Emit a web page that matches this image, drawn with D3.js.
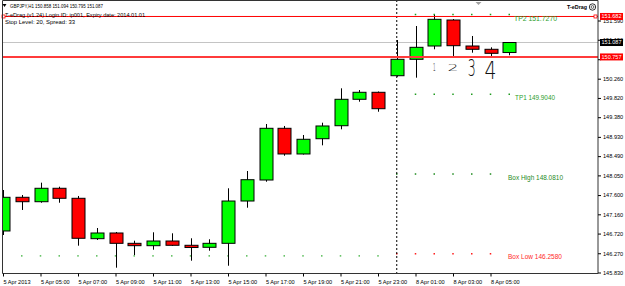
<!DOCTYPE html>
<html><head><meta charset="utf-8">
<script src="https://cdn.jsdelivr.net/npm/d3@7"></script>
<style>body{margin:0;background:#fff} svg{display:block;font-family:"Liberation Sans",Arial,sans-serif}</style>
</head><body><svg id="c" width="625" height="286"></svg>
<script>
// ---- data ----
const times = ["5 Apr 03:00","5 Apr 04:00","5 Apr 05:00","5 Apr 06:00","5 Apr 07:00","5 Apr 08:00","5 Apr 09:00",
  "5 Apr 10:00","5 Apr 11:00","5 Apr 12:00","5 Apr 13:00","5 Apr 14:00","5 Apr 15:00","5 Apr 16:00","5 Apr 17:00",
  "5 Apr 18:00","5 Apr 19:00","5 Apr 20:00","5 Apr 21:00","5 Apr 22:00","5 Apr 23:00",
  "8 Apr 00:00","8 Apr 01:00","8 Apr 02:00","8 Apr 03:00","8 Apr 04:00","8 Apr 05:00","8 Apr 06:00"];
const open  = [146.779,147.549,147.448,147.755,147.526,146.603,146.733,146.497,146.443,146.550,146.452,146.406,146.497,147.464,147.944,149.126,148.539,148.888,149.185,149.789,149.949,150.328,150.703,151.007,151.601,151.007,150.932,150.858];
const high  = [147.716,147.601,147.883,147.791,147.579,146.847,146.756,146.557,146.749,146.726,146.612,146.589,147.755,148.150,149.224,149.179,148.973,149.254,150.040,150.001,149.967,151.144,151.464,151.716,151.624,151.236,150.977,151.094];
const low   = [146.687,147.259,147.425,147.425,146.443,146.573,145.940,146.230,146.351,146.436,146.100,146.328,145.985,147.311,147.905,148.500,148.527,148.737,149.103,149.734,149.505,150.305,150.283,150.932,150.779,150.854,150.763,150.795];
const close = [147.549,147.448,147.755,147.526,146.612,146.733,146.497,146.443,146.550,146.452,146.401,146.497,147.464,147.951,149.126,148.539,148.875,149.179,149.789,149.949,149.574,150.703,150.977,151.617,151.014,150.932,150.840,151.087];

const xTickTimes  = ["5 Apr 03:00","5 Apr 05:00","5 Apr 07:00","5 Apr 09:00","5 Apr 11:00","5 Apr 13:00","5 Apr 15:00","5 Apr 17:00","5 Apr 19:00","5 Apr 21:00","5 Apr 23:00","8 Apr 01:00","8 Apr 03:00","8 Apr 05:00"];
const xTickLabels = ["5 Apr 2013","5 Apr 05:00","5 Apr 07:00","5 Apr 09:00","5 Apr 11:00","5 Apr 13:00","5 Apr 15:00","5 Apr 17:00","5 Apr 19:00","5 Apr 21:00","5 Apr 23:00","8 Apr 01:00","8 Apr 03:00","8 Apr 05:00"];
const yTickValues = [151.590,151.150,150.705,150.260,149.820,149.380,148.930,148.490,148.050,147.600,147.160,146.720,146.270,145.830];
const yTickLabels = ["151.590","151.150","","150.260","149.820","149.380","148.930","148.490","148.050","147.600","147.160","146.720","146.270","145.830"];

const levelNames  = ["TP2","TP1","Box High","Box Low","Old Low"];
const levelValues = [151.7270,149.9040,148.0810,146.2580,146.210];
const levelFrom   = ["8 Apr 01:00","8 Apr 01:00","8 Apr 00:00","8 Apr 00:00","5 Apr 04:00"];
const levelTo     = ["8 Apr 06:00","8 Apr 06:00","8 Apr 05:00","8 Apr 05:00","5 Apr 23:00"];
const levelLabels = ["TP2 151.7270","TP1 149.9040","Box High 148.0810","Box Low 146.2580",""];

const bidPrice = 151.087;
const lineValues = [151.682, 150.757];
const lineLabels = ["151.682", "150.757"];
const divider = "8 Apr 00:00";
const notes = ["1","2","3","4"];
const noteTimes = ["8 Apr 02:00","8 Apr 03:00","8 Apr 04:00","8 Apr 05:00"];
const notePrices = [150.516,150.504,150.516,150.459];

// ---- scales ----
const svg = d3.select("#c");
const L = 3, R = 598, B = 273.5;
const x = d3.scalePoint().domain(times).range([3, 509.25]);
const y = d3.scaleLinear().domain([145.830, 151.590]).range([272.5, 20.5]);

svg.append("rect").attr("width",625).attr("height",286).attr("fill","#fff");
svg.append("clipPath").attr("id","clip").append("rect").attr("x",L).attr("y",0).attr("width",R-L).attr("height",B);
const g = svg.append("g").attr("clip-path","url(#clip)");

// bid line
g.append("line").attr("x1",L).attr("x2",R).attr("y1",y(bidPrice)).attr("y2",y(bidPrice)).attr("stroke","#c4c4c4");

// dotted levels
const dotColors = ["#1f9a1f","#1f9a1f","#1f8a1f","#ff1a1a","#55bb55"];
levelValues.forEach((v,k)=>{
  const i0 = times.indexOf(levelFrom[k]), i1 = times.indexOf(levelTo[k]);
  const pts = times.slice(i0, i1+1);
  g.selectAll(null).data(pts).enter().append("rect")
    .attr("x",d=>x(d)-0.75).attr("y",y(v)-0.75).attr("width",1.5).attr("height",1.5).attr("fill",dotColors[k]);
});

// divider
g.append("line").attr("x1",x(divider)).attr("x2",x(divider)).attr("y1",0).attr("y2",B)
  .attr("stroke","#000").attr("stroke-dasharray","2,2");

// candles
const idx = d3.range(times.length);
g.selectAll(".wick").data(idx).enter().append("line")
  .attr("x1",i=>Math.round(x(times[i]))+0.5).attr("x2",i=>Math.round(x(times[i]))+0.5)
  .attr("y1",i=>y(high[i])).attr("y2",i=>y(low[i])).attr("stroke","#000").attr("stroke-width",1);
g.selectAll(".body").data(idx).enter().append("rect")
  .attr("x",i=>Math.round(x(times[i]))-6)
  .attr("y",i=>y(Math.max(open[i],close[i])))
  .attr("width",13)
  .attr("height",i=>Math.max(1,Math.abs(y(open[i])-y(close[i]))))
  .attr("fill",i=>close[i]>=open[i]?"#00ff00":"#ff0000")
  .attr("stroke","#000").attr("stroke-width",1);

// red horizontal lines
g.append("line").attr("x1",L).attr("x2",R).attr("y1",y(lineValues[0])).attr("y2",y(lineValues[0])).attr("stroke","#ff0000").attr("stroke-width",1);
g.append("line").attr("x1",L).attr("x2",R).attr("y1",y(lineValues[1])).attr("y2",y(lineValues[1])).attr("stroke","#ff3b3b").attr("stroke-width",2);
[L+0.5, R-2.5].forEach(px=>{
  svg.append("rect").attr("x",px-1.5).attr("y",y(lineValues[0])-1.5).attr("width",3).attr("height",3)
    .attr("fill","#fff").attr("stroke","#ff0000").attr("stroke-width",0.8);
});

// level labels
const lblColors = ["#2ca02c","#2ca02c","#1f8a1f","#ff2a2a",""];
const lblOff = [4.5,3.3,3.4,3.3,0];
levelLabels.forEach((t,k)=>{
  if(!t) return;
  const xs = [514,515,508,508][k], lens=[43,40,55,54][k];
  svg.append("text").attr("x",xs).attr("y",y(levelValues[k])+lblOff[k]).attr("dy","0.35em")
    .attr("font-size",6.6).attr("fill",lblColors[k]).attr("textLength",lens).attr("lengthAdjust","spacingAndGlyphs").text(t);
});

// handwritten notes
const noteSize=[10,9,23,24], noteLen=[3,11,8,12];
notes.forEach((t,k)=>{
  svg.append("text").attr("x",x(noteTimes[k])).attr("y",y(notePrices[k])).attr("text-anchor","middle")
    .attr("dy","0.36em").attr("font-family","DejaVu Sans").attr("font-weight",300)
    .attr("font-size",noteSize[k]).attr("fill","#111").attr("textLength",noteLen[k]).attr("lengthAdjust","spacingAndGlyphs").text(t);
});

// frame
svg.append("path").attr("d",`M${L-0.5},0.5 H${R} V${B} H${L-0.5} Z`).attr("fill","none").attr("stroke","#333").attr("stroke-width",1);

// right axis
const ya = svg.append("g").attr("transform",`translate(${R},0)`)
  .call(d3.axisRight(y).tickValues(yTickValues).tickFormat((d,i)=>yTickLabels[i]).tickSize(3).tickPadding(2));
ya.select(".domain").remove();
ya.selectAll("text").attr("font-size",5.6).attr("font-family","Liberation Sans").attr("fill","#000");
ya.selectAll("line").attr("stroke","#000");

// bottom axis
const xa = svg.append("g").attr("transform",`translate(0,${B})`)
  .call(d3.axisBottom(x).tickValues(xTickTimes).tickFormat((d,i)=>xTickLabels[i]).tickSize(3).tickPadding(2));
xa.select(".domain").remove();
xa.selectAll("text").attr("font-size",5.6).attr("font-family","Liberation Sans").attr("fill","#000")
  .attr("text-anchor","start").attr("x",0).attr("dy","0.9em");
xa.selectAll("line").attr("stroke","#000");

// price boxes
function priceBox(v, label, bg){
  const cy = y(v);
  svg.append("rect").attr("x",600).attr("y",cy-3.5).attr("width",23).attr("height",7).attr("fill",bg);
  svg.append("text").attr("x",601.5).attr("y",cy).attr("dy","0.35em").attr("font-size",5.6)
    .attr("fill","#fff").attr("textLength",20).attr("lengthAdjust","spacingAndGlyphs").text(label);
}
priceBox(lineValues[0], lineLabels[0], "#ff0000");
priceBox(bidPrice, bidPrice.toFixed(3), "#000");
priceBox(lineValues[1], lineLabels[1], "#ff0000");

// header texts
svg.append("path").attr("d","M2.5,4 L6.5,4 L4.5,7 Z").attr("fill","#000");
svg.append("text").attr("x",10).attr("y",6.2).attr("dy","0.35em").attr("font-size",5.6).attr("fill","#000")
  .attr("textLength",93).attr("lengthAdjust","spacingAndGlyphs").text("GBPJPY,H1  150.858 151.094 150.795 151.087");
svg.append("text").attr("x",5).attr("y",14.8).attr("dy","0.35em").attr("font-size",5.6).attr("fill","#000")
  .attr("textLength",140).attr("lengthAdjust","spacingAndGlyphs").text("T-eDrag (v1.24) Login ID: ip001, Expiry date: 2014.01.01");
svg.append("text").attr("x",5).attr("y",22.3).attr("dy","0.35em").attr("font-size",5.6).attr("fill","#000")
  .attr("textLength",70).attr("lengthAdjust","spacingAndGlyphs").text("Stop Level: 20,  Spread: 33");
svg.append("text").attr("x",567).attr("y",7).attr("dy","0.35em").attr("font-size",6).attr("font-weight","bold").attr("fill","#000")
  .attr("textLength",20).attr("lengthAdjust","spacingAndGlyphs").text("T-eDrag");
svg.append("circle").attr("cx",592.5).attr("cy",7).attr("r",3.2).attr("fill","none").attr("stroke","#000").attr("stroke-width",0.8);
svg.append("circle").attr("cx",592.5).attr("cy",7).attr("r",1.4).attr("fill","none").attr("stroke","#000").attr("stroke-width",0.6);
// shift marker
svg.append("path").attr("d","M475.5,2 L481.5,2 L478.5,5 Z").attr("fill","#a0a0a0");
</script></body></html>
